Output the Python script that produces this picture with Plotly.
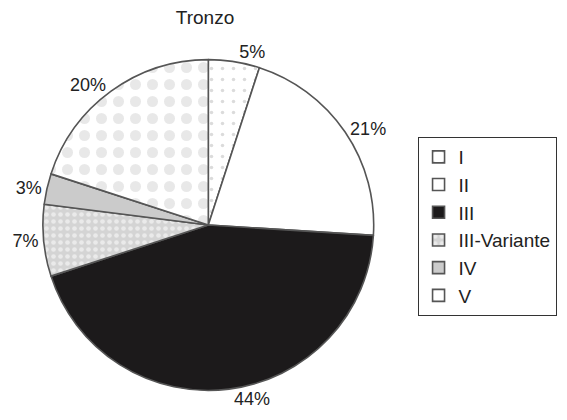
import plotly.graph_objects as go

labels = ["I", "II", "III", "III-Variante", "IV", "V"]
values = [5, 21, 44, 7, 3, 20]
fill_colors = ["#ffffff", "#ffffff", "#1c1a1b", "#d4d4d4", "#cbcbcb", "#ffffff"]
pattern_shapes = [".", "", "", ".", "", "."]
pattern_fg = ["#b8b8b8", "#ffffff", "#1c1a1b", "#ffffff", "#cbcbcb", "#d2d2d2"]
pattern_size = [11, 8, 8, 7, 8, 17]
pattern_solidity = [0.08, 0.3, 0.3, 0.35, 0.3, 0.33]

W, H = 567, 420
OFF = 8  # page body margin offset
cx, cy, r = 207 - OFF, 225 - OFF, 166
FONT = "Liberation Sans, Arial, sans-serif"

fig = go.Figure(go.Pie(
    labels=labels,
    values=values,
    sort=False,
    direction="clockwise",
    rotation=0,
    texttemplate="%{value}%",
    textposition="outside",
    outsidetextfont=dict(size=18, color="#222222", family=FONT),
    marker=dict(
        colors=fill_colors,
        line=dict(color="#555555", width=1.6),
        pattern=dict(
            shape=pattern_shapes,
            fgcolor=pattern_fg,
            bgcolor=fill_colors,
            size=pattern_size,
            solidity=pattern_solidity,
            fillmode="overlay",
        ),
    ),
    domain=dict(x=[(cx - r) / W, (cx + r) / W], y=[1 - (cy + r) / H, 1 - (cy - r) / H]),
    hoverinfo="label+percent",
))

fig.update_layout(
    width=W, height=H,
    margin=dict(l=0, r=0, t=0, b=0),
    paper_bgcolor="white",
    plot_bgcolor="white",
    font=dict(family=FONT, size=18, color="#222222"),
    title=dict(text="Tronzo", x=(205 - OFF) / W, xanchor="center", y=1 - (17 - OFF) / H, yanchor="middle",
               font=dict(size=19, color="#222222")),
    showlegend=True,
    legend=dict(
        x=(417 - OFF) / W, y=1 - (137 - OFF) / H, xanchor="left", yanchor="top",
        bordercolor="#333333", borderwidth=1,
        font=dict(size=19, color="#222222"),
        traceorder="normal",
        itemwidth=30,
        entrywidth=142,
    ),
)

fig.write_html("out.html")
